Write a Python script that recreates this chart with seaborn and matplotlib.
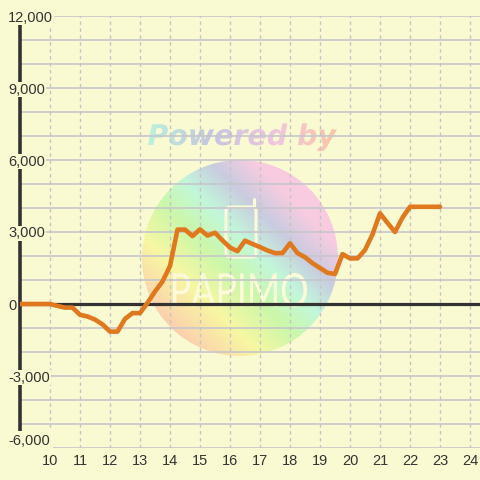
import numpy as np
import matplotlib
matplotlib.use("Agg")
import matplotlib.pyplot as plt
import seaborn as sns
from matplotlib.colors import LinearSegmentedColormap
from matplotlib.patches import Circle, PathPatch, FancyBboxPatch
from matplotlib.textpath import TextPath
from matplotlib.font_manager import FontProperties
from matplotlib.transforms import Affine2D

# --- data (hour of day, running balance) ---
hours = [
    9.00, 9.25, 9.50, 9.75, 10.00, 10.25, 10.50, 10.75,
    11.00, 11.25, 11.50, 11.75, 12.00, 12.25, 12.50, 12.75,
    13.00, 13.25, 13.50, 13.75, 14.00, 14.25, 14.50, 14.75,
    15.00, 15.25, 15.50, 15.75, 16.00, 16.25, 16.50, 16.75,
    17.00, 17.25, 17.50, 17.75, 18.00, 18.25, 18.50, 18.75,
    19.00, 19.25, 19.50, 19.75, 20.00, 20.25, 20.50, 20.75,
    21.00, 21.25, 21.50, 21.75, 22.00, 22.25, 22.50, 22.75, 23.00,
]
balance = [
    0, 0, 0, 0, 0, -80, -150, -150,
    -450, -520, -650, -850, -1150, -1150, -620, -380,
    -380, 50, 520, 940, 1580, 3100, 3100, 2830,
    3110, 2850, 2970, 2650, 2350, 2200, 2640, 2500,
    2370, 2230, 2120, 2120, 2530, 2120, 1950, 1700,
    1500, 1300, 1250, 2080, 1900, 1900, 2250, 2900,
    3780, 3380, 3000, 3600, 4050, 4050, 4050, 4050, 4050,
]
x_ticks = list(range(10, 25))
y_ticks = [-6000, -3000, 0, 3000, 6000, 9000, 12000]

BG = "#fafad2"
ORANGE = "#e0781e"
DARK = "#333333"

sns.set_style("white")
plt.rcParams["font.family"] = ["Liberation Sans", "DejaVu Sans"]

fig = plt.figure(figsize=(4.8, 4.8), dpi=100, facecolor=BG)

# watermark layer in pixel coordinates (y down)
wm = fig.add_axes([0, 0, 1, 1], zorder=0)
wm.set_xlim(0, 480)
wm.set_ylim(480, 0)
wm.axis("off")

cx, cy, r = 240, 258, 98
g = np.linspace(-1, 1, 400)
gx, gy = np.meshgrid(g, g)
t = np.clip(((gx - gy) / (2 * 0.707) + 1) / 2, 0, 1)
circle_cmap = LinearSegmentedColormap.from_list(
    "wm", [(0.0, "#fbcfae"), (0.22, "#f8f7a2"), (0.42, "#cbf7aa"),
           (0.58, "#c2f7da"), (0.74, "#c9cce0"), (0.9, "#f8cbe0"), (1.0, "#f8cbe0")])
im = wm.imshow(t, cmap=circle_cmap, extent=(cx - r, cx + r, cy + r, cy - r),
               aspect="auto", interpolation="bilinear")
im.set_clip_path(Circle((cx, cy), r, transform=wm.transData))

# "Powered by" with a horizontal pastel gradient
prop = FontProperties(family="DejaVu Sans", weight="bold", style="oblique")
tp = TextPath((0, 0), "Powered by", size=1, prop=prop)
ext = tp.get_extents()
s = 189 / ext.width
tr = Affine2D().translate(-ext.x0, 0).scale(s, -s).translate(148, 145)
text_cmap = LinearSegmentedColormap.from_list(
    "pw", ["#bcf2dc", "#c6c6e0", "#f0c6de", "#fcc6a4"])
im2 = wm.imshow(np.tile(np.linspace(0, 1, 200), (20, 1)), cmap=text_cmap,
                extent=(146, 340, 154, 114), aspect="auto")
im2.set_clip_path(tp, tr + wm.transData)

# papimo logo
cream = "#fbfbd9"
lp = TextPath((0, 0), "PAPIMO", size=1, prop=FontProperties(family=["Lato", "DejaVu Sans"]))
le = lp.get_extents()
ltr = Affine2D().translate(-le.x0, -le.y0).scale(134 / le.width, -34 / le.height).translate(173, 307)
wm.add_patch(PathPatch(lp, transform=ltr + wm.transData, fc=cream, ec="none"))
wm.add_patch(FancyBboxPatch((226, 207), 30, 50, boxstyle="round,pad=0,rounding_size=4",
                            fc="none", ec=cream, lw=2.2))
wm.plot([254, 254], [207, 199], color=cream, lw=2.2, solid_capstyle="round")

# main chart
ax = fig.add_axes([20 / 480, 32 / 480, 460 / 480, 432 / 480], zorder=1)
ax.patch.set_alpha(0)
ax.set_xlim(9, 9 + 460 / 30)
ax.set_ylim(-6000, 12000)

ax.hlines(np.arange(-6000, 12001, 1000), 9, 9 + 460 / 30, colors="#c6c6cc", lw=1.2, zorder=0.5)
ax.vlines(x_ticks, -6000, 12000, colors="#c4c4c4", lw=1, linestyles=(0, (2.5, 2.5)), zorder=0.5)
ax.axhline(0, color=DARK, lw=2.3, zorder=1.5)

sns.lineplot(x=hours, y=balance, ax=ax, color=ORANGE, linewidth=3.3, zorder=3)

for side in ["top", "right", "bottom"]:
    ax.spines[side].set_visible(False)
ax.spines["left"].set_color(DARK)
ax.spines["left"].set_linewidth(2.6)

ax.set_xticks(x_ticks)
ax.set_xticklabels([str(h) for h in x_ticks])
ax.set_yticks(y_ticks)
ax.set_yticklabels([f"{v:,}" for v in y_ticks])
ax.tick_params(axis="x", length=0, pad=4, labelsize=10.5, labelcolor=DARK)
ax.tick_params(axis="y", length=0, pad=8.5, labelsize=10.5, labelcolor=DARK)
for v, lab in zip(y_ticks, ax.get_yticklabels()):
    lab.set_horizontalalignment("left")
    lab.set_bbox(dict(fc=BG, ec="none", pad=0.6))
    if v == y_ticks[0]:
        lab.set_verticalalignment("bottom")
        lab.set_bbox(dict(fc=BG, ec="none", pad=2))
ax.yaxis.set_zorder(4)
ax.set_xlabel("")
ax.set_ylabel("")

fig.savefig("out.png", dpi=100, facecolor=BG)
